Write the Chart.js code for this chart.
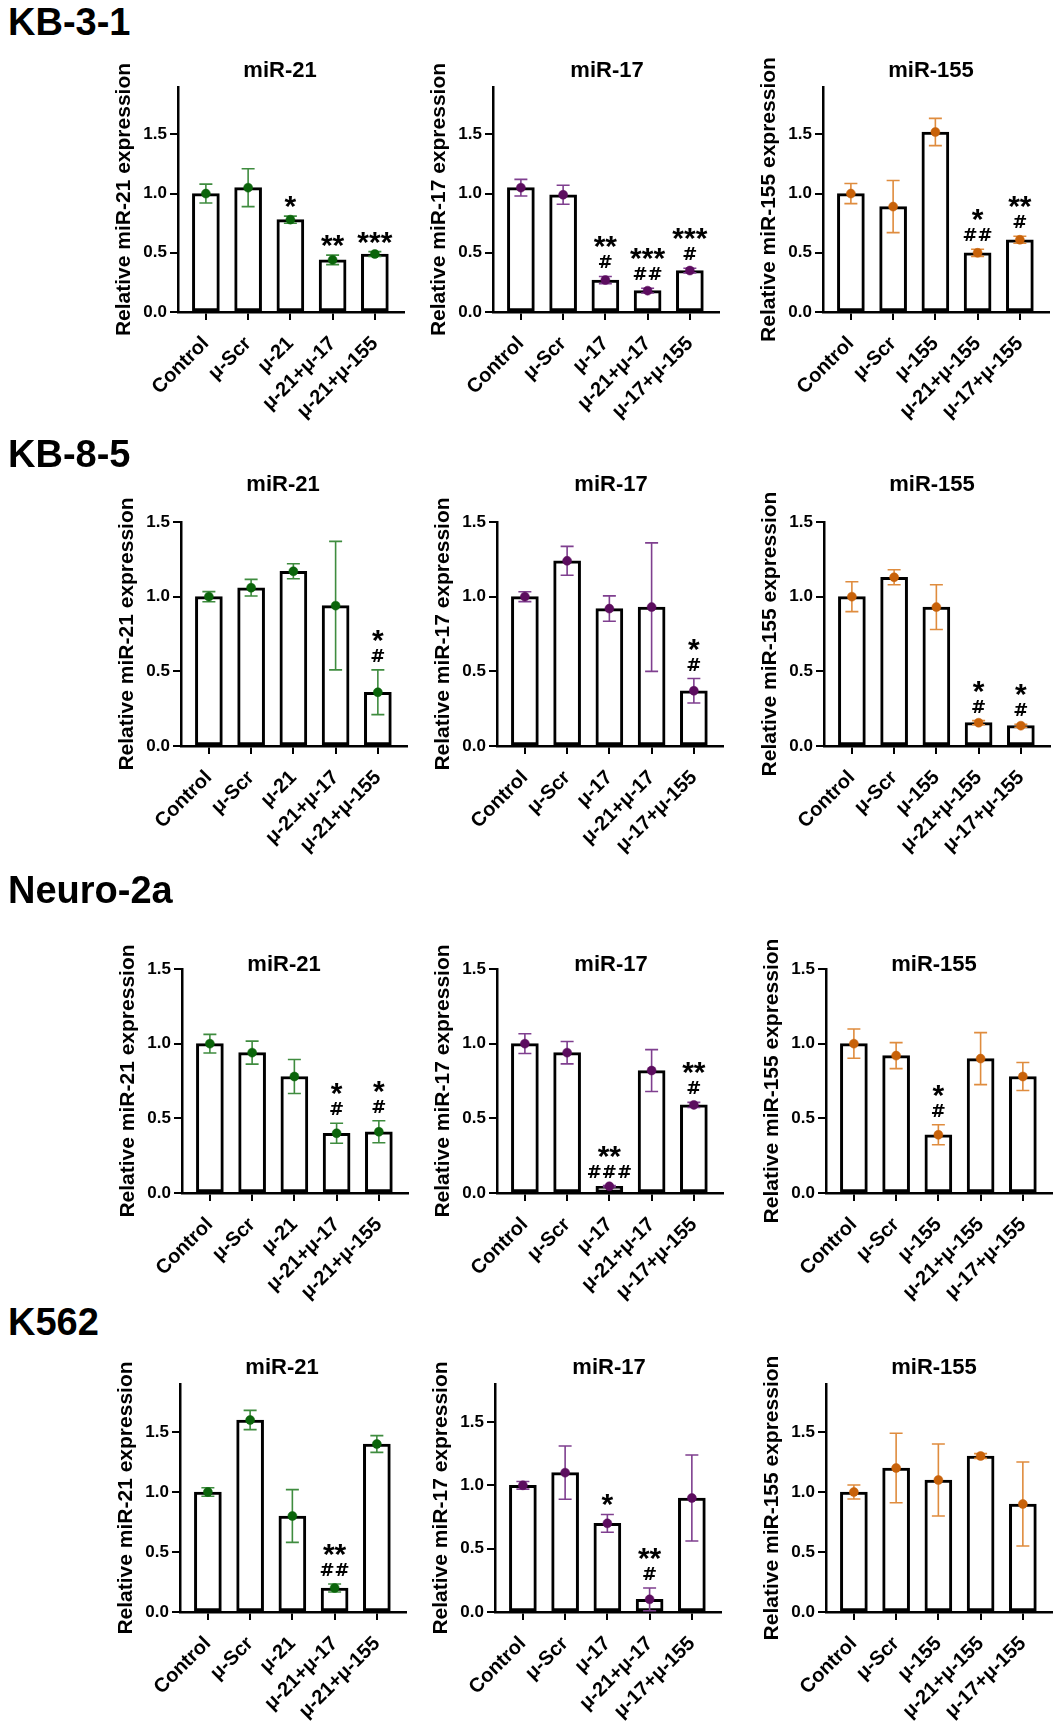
<!DOCTYPE html>
<html>
<head>
<meta charset="utf-8">
<script src="https://cdn.jsdelivr.net/npm/chart.js@4.4.1/dist/chart.umd.min.js"></script>
<style>
  html, body { margin: 0; padding: 0; background: #fff; }
  #page { position: relative; width: 1061px; height: 1734px; background: #fff; overflow: hidden; }
  .row-label { position: absolute; left: 8px; font: bold 38px 'Liberation Sans', Arial, sans-serif; line-height: 38px; color: #000; }
  canvas { position: absolute; }
</style>
</head>
<body>
<div id="page"></div>
<script>
// categories
const labels21 = ['Control', 'μ-Scr', 'μ-21', 'μ-21+μ-17', 'μ-21+μ-155'];
const labels17 = ['Control', 'μ-Scr', 'μ-17', 'μ-21+μ-17', 'μ-17+μ-155'];
const labels155 = ['Control', 'μ-Scr', 'μ-155', 'μ-21+μ-155', 'μ-17+μ-155'];
const cellLines = ['KB-3-1', 'KB-8-5', 'Neuro-2a', 'K562'];
const mirNames = ['miR-21', 'miR-17', 'miR-155'];
const yTicks = [0, 0.5, 1.0, 1.5];

// KB-3-1
const kb31Mir21 = [1.00, 1.05, 0.78, 0.44, 0.49];
const kb31Mir21Err = [0.08, 0.16, 0.03, 0.04, 0.02];
const kb31Mir21Star = ['', '', '*', '**', '***'];
const kb31Mir21Hash = ['', '', '', '', ''];
const kb31Mir17 = [1.05, 0.99, 0.27, 0.18, 0.35];
const kb31Mir17Err = [0.07, 0.08, 0.03, 0.02, 0.02];
const kb31Mir17Star = ['', '', '**', '***', '***'];
const kb31Mir17Hash = ['', '', '#', '##', '#'];
const kb31Mir155 = [1.00, 0.89, 1.52, 0.50, 0.61];
const kb31Mir155Err = [0.085, 0.22, 0.115, 0.03, 0.03];
const kb31Mir155Star = ['', '', '', '*', '**'];
const kb31Mir155Hash = ['', '', '', '##', '#'];

// KB-8-5
const kb85Mir21 = [1.00, 1.06, 1.17, 0.94, 0.36];
const kb85Mir21Err = [0.034, 0.056, 0.05, 0.43, 0.15];
const kb85Mir21Star = ['', '', '', '', '*'];
const kb85Mir21Hash = ['', '', '', '', '#'];
const kb85Mir17 = [1.00, 1.24, 0.92, 0.93, 0.37];
const kb85Mir17Err = [0.033, 0.097, 0.085, 0.43, 0.082];
const kb85Mir17Star = ['', '', '', '', '*'];
const kb85Mir17Hash = ['', '', '', '', '#'];
const kb85Mir155 = [1.00, 1.13, 0.93, 0.156, 0.136];
const kb85Mir155Err = [0.10, 0.05, 0.15, 0.014, 0.01];
const kb85Mir155Star = ['', '', '', '*', '*'];
const kb85Mir155Hash = ['', '', '', '#', '#'];

// Neuro-2a
const n2aMir21 = [1.00, 0.94, 0.78, 0.40, 0.41];
const n2aMir21Err = [0.062, 0.077, 0.114, 0.067, 0.074];
const n2aMir21Star = ['', '', '', '*', '*'];
const n2aMir21Hash = ['', '', '', '#', '#'];
const n2aMir17 = [1.00, 0.94, 0.045, 0.82, 0.59];
const n2aMir17Err = [0.066, 0.075, 0.005, 0.14, 0.017];
const n2aMir17Star = ['', '', '**', '', '**'];
const n2aMir17Hash = ['', '', '###', '', '#'];
const n2aMir155 = [1.00, 0.92, 0.39, 0.90, 0.78];
const n2aMir155Err = [0.098, 0.087, 0.067, 0.174, 0.094];
const n2aMir155Star = ['', '', '*', '', ''];
const n2aMir155Hash = ['', '', '#', '', ''];

// K562
const k562Mir21 = [1.00, 1.60, 0.80, 0.20, 1.40];
const k562Mir21Err = [0.035, 0.08, 0.22, 0.033, 0.07];
const k562Mir21Star = ['', '', '', '**', ''];
const k562Mir21Hash = ['', '', '', '##', ''];
const k562Mir17 = [1.00, 1.10, 0.70, 0.10, 0.90];
const k562Mir17Err = [0.03, 0.21, 0.07, 0.09, 0.34];
const k562Mir17Star = ['', '', '*', '**', ''];
const k562Mir17Hash = ['', '', '', '#', ''];
const k562Mir155 = [1.00, 1.20, 1.10, 1.30, 0.90];
const k562Mir155Err = [0.058, 0.29, 0.30, 0.02, 0.35];
const k562Mir155Star = ['', '', '', '', ''];
const k562Mir155Hash = ['', '', '', '', ''];

const yMaxByRow = [[1.9, 1.9, 1.9], [1.5, 1.5, 1.5], [1.5, 1.5, 1.5], [1.9, 1.8, 1.9]];

// layout (pixels)
const rowTop = [87, 522, 969, 1384];
const rowAxis = [312, 746, 1193, 1612];
const rowTitleDy = [-16, -37, -4, -16];
const rowLabelTop = [3, 435, 871, 1303];
const colAxisX = [[178, 493, 823], [181, 497, 824], [182, 497, 826], [180, 495, 826]];
const colTitleDx = [102, 114, 108];

const pointColors = ['#0b650b', '#5c0d5f', '#c8620a'];
const errColors = ['#3f8c3f', '#7f3f8f', '#df8c3e'];
const catLabels = [labels21, labels17, labels155];

const FONT = "'Liberation Sans', Arial, sans-serif";
const starFont = "bold 30px " + FONT;
const hashFont = "bold 18px 'DejaVu Sans', sans-serif";

Chart.defaults.font.family = FONT;
Chart.defaults.color = '#000';

const panels = [
  [[kb31Mir21, kb31Mir21Err, kb31Mir21Star, kb31Mir21Hash],
   [kb31Mir17, kb31Mir17Err, kb31Mir17Star, kb31Mir17Hash],
   [kb31Mir155, kb31Mir155Err, kb31Mir155Star, kb31Mir155Hash]],
  [[kb85Mir21, kb85Mir21Err, kb85Mir21Star, kb85Mir21Hash],
   [kb85Mir17, kb85Mir17Err, kb85Mir17Star, kb85Mir17Hash],
   [kb85Mir155, kb85Mir155Err, kb85Mir155Star, kb85Mir155Hash]],
  [[n2aMir21, n2aMir21Err, n2aMir21Star, n2aMir21Hash],
   [n2aMir17, n2aMir17Err, n2aMir17Star, n2aMir17Hash],
   [n2aMir155, n2aMir155Err, n2aMir155Star, n2aMir155Hash]],
  [[k562Mir21, k562Mir21Err, k562Mir21Star, k562Mir21Hash],
   [k562Mir17, k562Mir17Err, k562Mir17Star, k562Mir17Hash],
   [k562Mir155, k562Mir155Err, k562Mir155Star, k562Mir155Hash]]
];

const page = document.getElementById('page');

function drawMarks(ctx, x, yTop, star, hash) {
  let bottom = yTop - 8;
  ctx.textAlign = 'center';
  ctx.textBaseline = 'alphabetic';
  ctx.fillStyle = '#000';
  if (hash) {
    ctx.font = hashFont;
    const m = ctx.measureText(hash);
    ctx.fillText(hash, x, bottom - m.actualBoundingBoxDescent);
    bottom = bottom - m.actualBoundingBoxDescent - m.actualBoundingBoxAscent - 7;
  }
  if (star) {
    ctx.font = starFont;
    const m = ctx.measureText(star);
    ctx.fillText(star, x, bottom - m.actualBoundingBoxDescent);
  }
}

function makePanel(r, c) {
  const [means, errs, stars, hashes] = panels[r][c];
  const labels = catLabels[c];
  const axisX = colAxisX[r][c];
  const padTop = 60, scaleW = 80, areaW = 226, padRight = 8, xScaleH = 125;
  const areaH = rowAxis[r] - rowTop[r];

  const canvas = document.createElement('canvas');
  const w = scaleW + areaW + padRight, h = padTop + areaH + xScaleH;
  canvas.width = w; canvas.height = h;
  canvas.style.width = w + 'px'; canvas.style.height = h + 'px';
  canvas.style.left = (axisX - scaleW) + 'px';
  canvas.style.top = (rowTop[r] - padTop) + 'px';
  page.appendChild(canvas);

  const pts = means.map((v, i) => ({x: i, y: v}));

  const deco = {
    id: 'deco',
    beforeDatasetDraw(chart, args) {
      if (args.index !== 1) return;
      const {ctx, scales: {x, y}} = chart;
      ctx.save();
      ctx.strokeStyle = errColors[c];
      ctx.lineWidth = 1.6;
      means.forEach((v, i) => {
        const px = x.getPixelForValue(i);
        const top = y.getPixelForValue(v + errs[i]);
        const bot = y.getPixelForValue(v - errs[i]);
        ctx.beginPath();
        ctx.moveTo(px, top); ctx.lineTo(px, bot);
        ctx.moveTo(px - 6.5, top); ctx.lineTo(px + 6.5, top);
        ctx.moveTo(px - 6.5, bot); ctx.lineTo(px + 6.5, bot);
        ctx.stroke();
      });
      ctx.restore();
    },
    afterDatasetsDraw(chart) {
      const {ctx, scales: {x, y}} = chart;
      ctx.save();
      means.forEach((v, i) => {
        if (!stars[i] && !hashes[i]) return;
        drawMarks(ctx, x.getPixelForValue(i), y.getPixelForValue(v + errs[i]), stars[i], hashes[i]);
      });
      ctx.restore();
    },
    afterDraw(chart) {
      const {ctx, chartArea} = chart;
      ctx.save();
      ctx.font = 'bold 22px ' + FONT;
      ctx.fillStyle = '#000';
      ctx.textAlign = 'center';
      ctx.textBaseline = 'middle';
      ctx.fillText(mirNames[c], chartArea.left + colTitleDx[c], chartArea.top + rowTitleDy[r]);
      ctx.restore();
    }
  };

  new Chart(canvas, {
    type: 'bar',
    data: {
      datasets: [{
        type: 'bar',
        data: pts,
        backgroundColor: '#fff',
        borderColor: '#000',
        borderWidth: 3,
        borderSkipped: false,
        barThickness: 27,
        order: 2
      }, {
        type: 'line',
        data: pts,
        showLine: false,
        pointRadius: 4.5,
        pointBackgroundColor: pointColors[c],
        pointBorderColor: pointColors[c],
        pointBorderWidth: 0.5,
        order: 1
      }]
    },
    options: {
      responsive: false,
      animation: false,
      events: [],
      layout: { padding: { top: padTop, right: padRight, bottom: 0, left: 0 } },
      plugins: { legend: { display: false }, tooltip: { enabled: false } },
      scales: {
        x: {
          type: 'linear',
          offset: false,
          min: -0.66,
          max: 4.69,
          afterBuildTicks: s => { s.ticks = [0, 1, 2, 3, 4].map(v => ({value: v})); },
          afterFit: s => { s.height = xScaleH; },
          ticks: {
            callback: v => labels[v],
            autoSkip: false,
            minRotation: 45,
            maxRotation: 45,
            padding: 12,
            color: '#000',
            font: { size: 20, weight: 'bold' }
          },
          grid: { offset: false, drawOnChartArea: false, drawTicks: true, tickLength: 8, color: '#000', lineWidth: 2 },
          border: { display: true, color: '#000', width: 2.5 }
        },
        y: {
          type: 'linear',
          min: 0,
          max: yMaxByRow[r][c],
          afterBuildTicks: s => { s.ticks = yTicks.map(v => ({value: v})); },
          afterFit: s => { s.width = scaleW; },
          ticks: {
            callback: v => Number(v).toFixed(1),
            padding: 3,
            color: '#000',
            font: { size: 17, weight: 'bold' }
          },
          grid: { drawOnChartArea: false, drawTicks: true, tickLength: 8, color: '#000', lineWidth: 2 },
          border: { display: true, color: '#000', width: 2.5 },
          title: {
            display: true,
            text: 'Relative ' + mirNames[c] + ' expression',
            color: '#000',
            font: { size: 21, weight: 'bold', lineHeight: 1.2 },
            padding: { top: 14, bottom: 0 }
          }
        }
      }
    },
    plugins: [deco]
  });
}

cellLines.forEach((name, r) => {
  const div = document.createElement('div');
  div.className = 'row-label';
  div.style.top = rowLabelTop[r] + 'px';
  div.textContent = name;
  page.appendChild(div);
  for (let c = 0; c < 3; c++) makePanel(r, c);
});
</script>
</body>
</html>
